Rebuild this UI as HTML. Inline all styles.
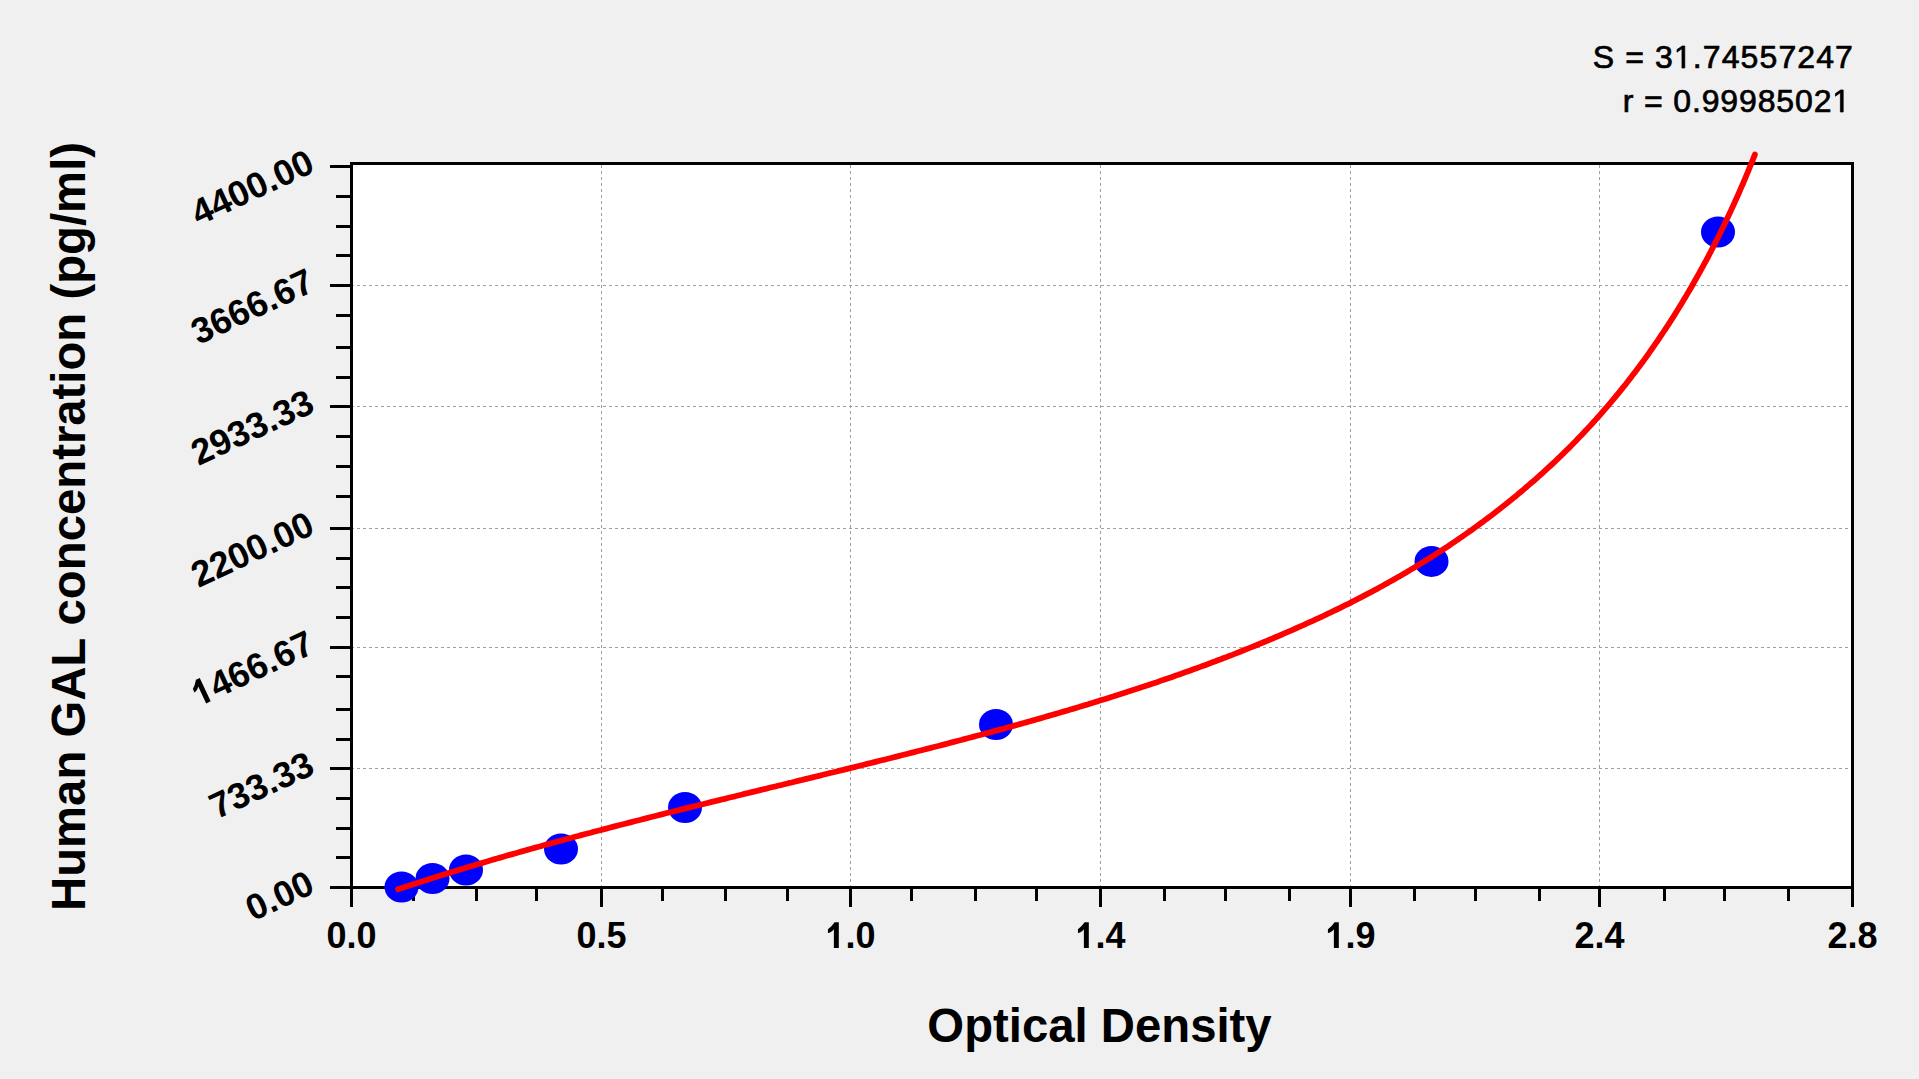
<!DOCTYPE html>
<html><head><meta charset="utf-8"><style>
html,body{margin:0;padding:0;width:1919px;height:1079px;overflow:hidden;background:#F0F0F0;}
svg{display:block;}
text{font-family:"Liberation Sans",sans-serif;fill:#000;}
.b{font-weight:bold;}
.r{stroke:#000;stroke-width:0.7px;}
.h{fill-opacity:0;stroke-opacity:0;}
.gb{fill:#000;}
.gr{fill:#000;stroke:#000;stroke-width:44.8;}
</style></head><body>
<svg width="1919" height="1079" viewBox="0 0 1919 1079">
<rect x="351.5" y="163.5" width="1501" height="724" fill="#fff"/>
<line x1="601.5" y1="165" x2="601.5" y2="886" stroke="#A0A0A0" stroke-width="1" stroke-dasharray="3 3"/>
<line x1="850.5" y1="165" x2="850.5" y2="886" stroke="#A0A0A0" stroke-width="1" stroke-dasharray="3 3"/>
<line x1="1100.5" y1="165" x2="1100.5" y2="886" stroke="#A0A0A0" stroke-width="1" stroke-dasharray="3 3"/>
<line x1="1350.5" y1="165" x2="1350.5" y2="886" stroke="#A0A0A0" stroke-width="1" stroke-dasharray="3 3"/>
<line x1="1599.5" y1="165" x2="1599.5" y2="886" stroke="#A0A0A0" stroke-width="1" stroke-dasharray="3 3"/>
<line x1="351" y1="285.5" x2="1851" y2="285.5" stroke="#A0A0A0" stroke-width="1" stroke-dasharray="3 3"/>
<line x1="351" y1="406.5" x2="1851" y2="406.5" stroke="#A0A0A0" stroke-width="1" stroke-dasharray="3 3"/>
<line x1="351" y1="528.5" x2="1851" y2="528.5" stroke="#A0A0A0" stroke-width="1" stroke-dasharray="3 3"/>
<line x1="351" y1="647.5" x2="1851" y2="647.5" stroke="#A0A0A0" stroke-width="1" stroke-dasharray="3 3"/>
<line x1="351" y1="768.5" x2="1851" y2="768.5" stroke="#A0A0A0" stroke-width="1" stroke-dasharray="3 3"/>
<rect x="350" y="889" width="3" height="18" fill="#000"/>
<rect x="412" y="889" width="3" height="12" fill="#000"/>
<rect x="475" y="889" width="3" height="12" fill="#000"/>
<rect x="535" y="889" width="3" height="12" fill="#000"/>
<rect x="600" y="889" width="3" height="18" fill="#000"/>
<rect x="661" y="889" width="3" height="12" fill="#000"/>
<rect x="724" y="889" width="3" height="12" fill="#000"/>
<rect x="786" y="889" width="3" height="12" fill="#000"/>
<rect x="849" y="889" width="3" height="18" fill="#000"/>
<rect x="910" y="889" width="3" height="12" fill="#000"/>
<rect x="974" y="889" width="3" height="12" fill="#000"/>
<rect x="1035" y="889" width="3" height="12" fill="#000"/>
<rect x="1099" y="889" width="3" height="18" fill="#000"/>
<rect x="1163" y="889" width="3" height="12" fill="#000"/>
<rect x="1224" y="889" width="3" height="12" fill="#000"/>
<rect x="1288" y="889" width="3" height="12" fill="#000"/>
<rect x="1349" y="889" width="3" height="18" fill="#000"/>
<rect x="1413" y="889" width="3" height="12" fill="#000"/>
<rect x="1474" y="889" width="3" height="12" fill="#000"/>
<rect x="1538" y="889" width="3" height="12" fill="#000"/>
<rect x="1598" y="889" width="3" height="18" fill="#000"/>
<rect x="1663" y="889" width="3" height="12" fill="#000"/>
<rect x="1723" y="889" width="3" height="12" fill="#000"/>
<rect x="1787" y="889" width="3" height="12" fill="#000"/>
<rect x="1851" y="889" width="3" height="18" fill="#000"/>
<rect x="330" y="165" width="20" height="3" fill="#000"/>
<rect x="336" y="195" width="14" height="3" fill="#000"/>
<rect x="336" y="225" width="14" height="3" fill="#000"/>
<rect x="336" y="254" width="14" height="3" fill="#000"/>
<rect x="330" y="284" width="20" height="3" fill="#000"/>
<rect x="336" y="314" width="14" height="3" fill="#000"/>
<rect x="336" y="346" width="14" height="3" fill="#000"/>
<rect x="336" y="376" width="14" height="3" fill="#000"/>
<rect x="330" y="405" width="20" height="3" fill="#000"/>
<rect x="336" y="435" width="14" height="3" fill="#000"/>
<rect x="336" y="465" width="14" height="3" fill="#000"/>
<rect x="336" y="495" width="14" height="3" fill="#000"/>
<rect x="330" y="527" width="20" height="3" fill="#000"/>
<rect x="336" y="557" width="14" height="3" fill="#000"/>
<rect x="336" y="586" width="14" height="3" fill="#000"/>
<rect x="336" y="616" width="14" height="3" fill="#000"/>
<rect x="330" y="646" width="20" height="3" fill="#000"/>
<rect x="336" y="675" width="14" height="3" fill="#000"/>
<rect x="336" y="708" width="14" height="3" fill="#000"/>
<rect x="336" y="738" width="14" height="3" fill="#000"/>
<rect x="330" y="767" width="20" height="3" fill="#000"/>
<rect x="336" y="797" width="14" height="3" fill="#000"/>
<rect x="336" y="827" width="14" height="3" fill="#000"/>
<rect x="336" y="856" width="14" height="3" fill="#000"/>
<rect x="330" y="886" width="20" height="3" fill="#000"/>
<rect x="351.5" y="163.5" width="1501" height="724" fill="none" stroke="#000" stroke-width="3"/>
<ellipse cx="401.5" cy="887" rx="17" ry="15.5" fill="#0000FF"/>
<ellipse cx="432.5" cy="878.5" rx="17" ry="15.5" fill="#0000FF"/>
<ellipse cx="466" cy="870" rx="17" ry="15.5" fill="#0000FF"/>
<ellipse cx="561" cy="849" rx="17" ry="15.5" fill="#0000FF"/>
<ellipse cx="685" cy="807.5" rx="17" ry="15.5" fill="#0000FF"/>
<ellipse cx="996" cy="724.5" rx="17" ry="15.5" fill="#0000FF"/>
<ellipse cx="1431.5" cy="561.4" rx="17" ry="15.5" fill="#0000FF"/>
<ellipse cx="1718" cy="232" rx="17" ry="15.5" fill="#0000FF"/>
<polyline points="398.0,889.2 401.1,888.2 404.2,887.2 407.2,886.2 410.3,885.2 413.4,884.2 416.5,883.2 419.6,882.2 422.7,881.2 425.8,880.2 428.9,879.2 432.0,878.2 435.0,877.3 438.1,876.3 441.2,875.3 444.3,874.4 447.4,873.4 450.5,872.5 453.6,871.5 456.7,870.6 459.8,869.6 462.9,868.7 466.0,867.7 469.1,866.8 472.2,865.9 475.3,864.9 478.4,864.0 481.5,863.1 484.6,862.2 487.8,861.3 490.9,860.3 494.0,859.4 497.1,858.5 500.2,857.6 503.3,856.7 506.4,855.8 509.5,854.9 512.6,854.1 515.8,853.2 518.9,852.3 522.0,851.4 525.1,850.5 528.2,849.6 531.3,848.8 534.5,847.9 537.6,847.0 540.7,846.2 543.8,845.3 546.9,844.4 550.0,843.6 553.2,842.7 556.3,841.9 559.4,841.0 562.5,840.2 565.7,839.3 568.8,838.5 571.9,837.7 575.0,836.8 578.2,836.0 581.3,835.1 584.4,834.3 587.5,833.5 590.7,832.7 593.8,831.8 596.9,831.0 600.1,830.2 603.2,829.4 606.3,828.6 609.5,827.7 612.6,826.9 615.7,826.1 618.9,825.3 622.0,824.5 625.1,823.7 628.3,822.9 631.4,822.1 634.5,821.3 637.7,820.5 640.8,819.7 643.9,818.9 647.1,818.1 650.2,817.3 653.3,816.5 656.5,815.7 659.6,814.9 662.8,814.1 665.9,813.3 669.0,812.5 672.2,811.8 675.3,811.0 678.4,810.2 681.6,809.4 684.7,808.6 687.9,807.9 691.0,807.1 694.1,806.3 697.3,805.5 700.4,804.7 703.6,804.0 706.7,803.2 709.9,802.4 713.0,801.6 716.1,800.9 719.3,800.1 722.4,799.3 725.6,798.6 728.7,797.8 731.9,797.0 735.0,796.3 738.1,795.5 741.3,794.7 744.4,793.9 747.6,793.2 750.7,792.4 753.9,791.6 757.0,790.9 760.1,790.1 763.3,789.3 766.4,788.6 769.6,787.8 772.7,787.0 775.9,786.3 779.0,785.5 782.2,784.8 785.3,784.0 788.5,783.2 791.6,782.5 794.7,781.7 797.9,780.9 801.0,780.2 804.2,779.4 807.3,778.6 810.5,777.9 813.6,777.1 816.8,776.3 819.9,775.6 823.0,774.8 826.2,774.0 829.3,773.2 832.5,772.5 835.6,771.7 838.8,770.9 841.9,770.2 845.1,769.4 848.2,768.6 851.3,767.8 854.5,767.1 857.6,766.3 860.8,765.5 863.9,764.7 867.1,763.9 870.2,763.2 873.3,762.4 876.5,761.6 879.6,760.8 882.8,760.0 885.9,759.3 889.0,758.5 892.2,757.7 895.3,756.9 898.5,756.1 901.6,755.3 904.7,754.5 907.9,753.7 911.0,752.9 914.2,752.1 917.3,751.3 920.4,750.5 923.6,749.7 926.7,748.9 929.9,748.1 933.0,747.3 936.1,746.5 939.3,745.7 942.4,744.9 945.5,744.1 948.7,743.2 951.8,742.4 954.9,741.6 958.1,740.8 961.2,740.0 964.3,739.1 967.5,738.3 970.6,737.5 973.7,736.6 976.9,735.8 980.0,735.0 983.1,734.1 986.3,733.3 989.4,732.5 992.5,731.6 995.6,730.8 998.8,729.9 1001.9,729.1 1005.0,728.2 1008.1,727.3 1011.3,726.5 1014.4,725.6 1017.5,724.7 1020.6,723.9 1023.8,723.0 1026.9,722.1 1030.0,721.3 1033.1,720.4 1036.2,719.5 1039.4,718.6 1042.5,717.7 1045.6,716.8 1048.7,715.9 1051.8,715.0 1054.9,714.1 1058.0,713.2 1061.1,712.3 1064.2,711.4 1067.4,710.5 1070.5,709.5 1073.6,708.6 1076.7,707.7 1079.8,706.8 1082.9,705.8 1086.0,704.9 1089.1,703.9 1092.2,703.0 1095.3,702.0 1098.4,701.1 1101.5,700.1 1104.5,699.2 1107.6,698.2 1110.7,697.2 1113.8,696.3 1116.9,695.3 1120.0,694.3 1123.1,693.3 1126.2,692.3 1129.2,691.3 1132.3,690.3 1135.4,689.3 1138.5,688.3 1141.5,687.3 1144.6,686.3 1147.7,685.3 1150.7,684.2 1153.8,683.2 1156.9,682.2 1159.9,681.1 1163.0,680.1 1166.1,679.0 1169.1,678.0 1172.2,676.9 1175.2,675.8 1178.3,674.8 1181.3,673.7 1184.4,672.6 1187.4,671.5 1190.5,670.4 1193.5,669.3 1196.6,668.2 1199.6,667.1 1202.6,666.0 1205.7,664.9 1208.7,663.8 1211.7,662.6 1214.8,661.5 1217.8,660.3 1220.8,659.2 1223.8,658.0 1226.9,656.9 1229.9,655.7 1232.9,654.6 1235.9,653.4 1238.9,652.2 1241.9,651.0 1244.9,649.8 1247.9,648.6 1250.9,647.4 1253.9,646.2 1256.9,645.0 1259.9,643.7 1262.9,642.5 1265.9,641.3 1268.9,640.0 1271.9,638.8 1274.8,637.5 1277.8,636.3 1280.8,635.0 1283.8,633.7 1286.7,632.4 1289.7,631.1 1292.7,629.8 1295.6,628.5 1298.6,627.2 1301.6,625.9 1304.5,624.6 1307.5,623.2 1310.4,621.9 1313.3,620.6 1316.3,619.2 1319.2,617.8 1322.2,616.5 1325.1,615.1 1328.0,613.7 1330.9,612.3 1333.8,610.9 1336.8,609.5 1339.7,608.1 1342.6,606.6 1345.5,605.2 1348.4,603.8 1351.3,602.3 1354.1,600.8 1357.0,599.4 1359.9,597.9 1362.8,596.4 1365.6,594.9 1368.5,593.4 1371.4,591.9 1374.2,590.3 1377.1,588.8 1379.9,587.3 1382.8,585.7 1385.6,584.1 1388.4,582.6 1391.2,581.0 1394.1,579.4 1396.9,577.8 1399.7,576.2 1402.5,574.6 1405.3,572.9 1408.1,571.3 1410.8,569.6 1413.6,568.0 1416.4,566.3 1419.2,564.6 1421.9,562.9 1424.7,561.2 1427.4,559.5 1430.2,557.8 1432.9,556.1 1435.6,554.3 1438.3,552.6 1441.1,550.8 1443.8,549.0 1446.5,547.3 1449.2,545.5 1451.8,543.7 1454.5,541.9 1457.2,540.0 1459.9,538.2 1462.5,536.4 1465.2,534.5 1467.8,532.7 1470.5,530.8 1473.1,528.9 1475.7,527.0 1478.3,525.1 1480.9,523.2 1483.5,521.3 1486.1,519.3 1488.7,517.4 1491.3,515.5 1493.9,513.5 1496.4,511.5 1499.0,509.5 1501.5,507.5 1504.1,505.5 1506.6,503.5 1509.1,501.5 1511.6,499.5 1514.1,497.4 1516.6,495.4 1519.1,493.3 1521.6,491.2 1524.1,489.1 1526.5,487.0 1529.0,484.9 1531.4,482.8 1533.9,480.7 1536.3,478.6 1538.7,476.4 1541.1,474.3 1543.5,472.1 1545.9,469.9 1548.3,467.7 1550.7,465.5 1553.0,463.3 1555.4,461.1 1557.7,458.9 1560.1,456.6 1562.4,454.4 1564.7,452.1 1567.0,449.8 1569.3,447.6 1571.6,445.3 1573.8,443.0 1576.1,440.7 1578.3,438.3 1580.6,436.0 1582.8,433.7 1585.0,431.3 1587.2,429.0 1589.4,426.6 1591.6,424.2 1593.8,421.8 1596.0,419.4 1598.1,417.0 1600.3,414.6 1602.4,412.2 1604.5,409.7 1606.6,407.3 1608.7,404.8 1610.8,402.4 1612.9,399.9 1615.0,397.4 1617.0,394.9 1619.1,392.4 1621.1,389.9 1623.1,387.4 1625.2,384.9 1627.2,382.3 1629.1,379.8 1631.1,377.2 1633.1,374.6 1635.1,372.1 1637.0,369.5 1638.9,366.9 1640.9,364.3 1642.8,361.7 1644.7,359.1 1646.6,356.5 1648.5,353.8 1650.3,351.2 1652.2,348.5 1654.0,345.9 1655.9,343.2 1657.7,340.6 1659.5,337.9 1661.3,335.2 1663.1,332.5 1664.9,329.8 1666.7,327.1 1668.5,324.4 1670.2,321.7 1672.0,318.9 1673.7,316.2 1675.4,313.4 1677.1,310.7 1678.8,307.9 1680.5,305.2 1682.2,302.4 1683.9,299.6 1685.6,296.9 1687.2,294.1 1688.9,291.3 1690.5,288.5 1692.1,285.7 1693.7,282.9 1695.3,280.0 1696.9,277.2 1698.5,274.4 1700.1,271.5 1701.6,268.7 1703.2,265.9 1704.7,263.0 1706.3,260.2 1707.8,257.3 1709.3,254.4 1710.8,251.6 1712.3,248.7 1713.8,245.8 1715.2,242.9 1716.7,240.0 1718.2,237.1 1719.6,234.2 1721.0,231.3 1722.5,228.4 1723.9,225.5 1725.3,222.6 1726.7,219.6 1728.0,216.7 1729.4,213.8 1730.8,210.9 1732.1,207.9 1733.5,205.0 1734.8,202.0 1736.2,199.1 1737.5,196.1 1738.8,193.2 1740.1,190.2 1741.4,187.2 1742.7,184.3 1743.9,181.3 1745.2,178.3 1746.4,175.4 1747.7,172.4 1748.9,169.4 1750.1,166.4 1751.4,163.4 1752.6,160.4 1753.8,157.4 1754.9,154.4" fill="none" stroke="#FF0000" stroke-width="5.8" stroke-linejoin="round" stroke-linecap="round"/>
<text id="t0" x="351.5" y="948" text-anchor="middle" class="b" font-size="36">0.0</text>
<text id="t1" x="601.5" y="948" text-anchor="middle" class="b" font-size="36">0.5</text>
<text id="t2" x="850.5" y="948" text-anchor="middle" class="b" font-size="36"><tspan class="h">1</tspan>.0</text><path class="gb" transform="translate(825.47,948.00) scale(0.017578,-0.017578)" d="M478,0L759,0L759,1466L520,1466Q330,1190 140,1067L140,847Q300,847 478,1062Z"/>
<text id="t3" x="1100.5" y="948" text-anchor="middle" class="b" font-size="36"><tspan class="h">1</tspan>.4</text><path class="gb" transform="translate(1075.47,948.00) scale(0.017578,-0.017578)" d="M478,0L759,0L759,1466L520,1466Q330,1190 140,1067L140,847Q300,847 478,1062Z"/>
<text id="t4" x="1350.5" y="948" text-anchor="middle" class="b" font-size="36"><tspan class="h">1</tspan>.9</text><path class="gb" transform="translate(1325.47,948.00) scale(0.017578,-0.017578)" d="M478,0L759,0L759,1466L520,1466Q330,1190 140,1067L140,847Q300,847 478,1062Z"/>
<text id="t5" x="1599.5" y="948" text-anchor="middle" class="b" font-size="36">2.4</text>
<text id="t6" x="1852.5" y="948" text-anchor="middle" class="b" font-size="36">2.8</text>
<g transform="translate(316.5,171) rotate(-25)"><text id="t7" text-anchor="end" class="b" font-size="36">4400.00</text></g>
<g transform="translate(316.5,290) rotate(-25)"><text id="t8" text-anchor="end" class="b" font-size="36">3666.67</text></g>
<g transform="translate(316.5,411) rotate(-25)"><text id="t9" text-anchor="end" class="b" font-size="36">2933.33</text></g>
<g transform="translate(316.5,533) rotate(-25)"><text id="t10" text-anchor="end" class="b" font-size="36">2200.00</text></g>
<g transform="translate(316.5,652) rotate(-25)"><text id="t11" text-anchor="end" class="b" font-size="36"><tspan class="h">1</tspan>466.67</text><path class="gb" transform="translate(-130.14,0.00) scale(0.017578,-0.017578)" d="M478,0L759,0L759,1466L520,1466Q330,1190 140,1067L140,847Q300,847 478,1062Z"/></g>
<g transform="translate(316.5,773) rotate(-25)"><text id="t12" text-anchor="end" class="b" font-size="36">733.33</text></g>
<g transform="translate(316.5,892) rotate(-25)"><text id="t13" text-anchor="end" class="b" font-size="36">0.00</text></g>
<text id="t14" x="1099.5" y="1042" text-anchor="middle" class="b" font-size="47.3">Optical Density</text>
<g transform="translate(85,526.5) rotate(-90)"><text id="t15" text-anchor="middle" class="b" font-size="47.3">Human GAL concentration (pg/ml)</text></g>
<text id="t16" x="1854" y="68" text-anchor="end" class="r" font-size="32" letter-spacing="1.1">S = 3<tspan class="h">1</tspan>.74557247</text><path class="gr" transform="translate(1673.92,68.00) scale(0.015625,-0.015625)" d="M515,0L696,0L696,1409L530,1409L197,1180L197,1010L515,1237Z"/>
<text id="t17" x="1851" y="112" text-anchor="end" class="r" font-size="32" letter-spacing="0.87">r = 0.9998502<tspan class="h">1</tspan></text><path class="gr" transform="translate(1832.33,112.00) scale(0.015625,-0.015625)" d="M515,0L696,0L696,1409L530,1409L197,1180L197,1010L515,1237Z"/>
</svg>
</body></html>
